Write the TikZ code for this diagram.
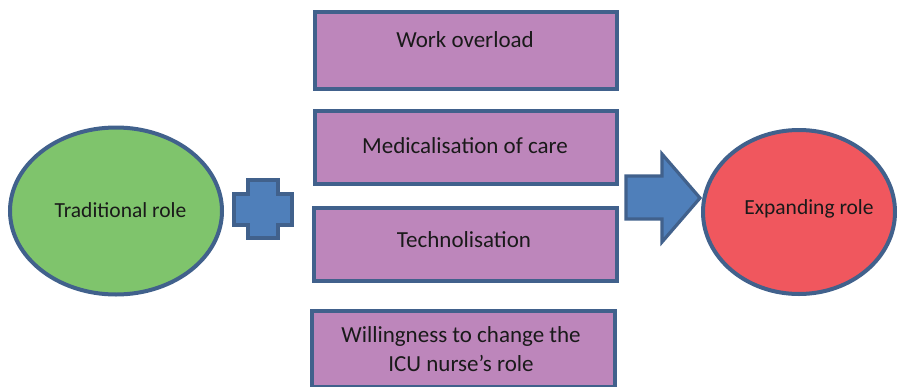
\documentclass[tikz,border=0pt]{standalone}
\usepackage{fontspec}
\setmainfont{Carlito}
\usetikzlibrary{shapes.geometric}
\definecolor{edge}{HTML}{41618C}
\definecolor{boxfill}{HTML}{BD86BB}
\definecolor{greenfill}{HTML}{7FC46C}
\definecolor{redfill}{HTML}{F0575E}
\definecolor{bluefill}{HTML}{4F7FBA}
\definecolor{inktext}{HTML}{1A1A1A}
\begin{document}
\begin{tikzpicture}[x=1pt,y=-1pt,
  factor/.style={draw=edge,line width=3.8pt,fill=boxfill,rectangle,minimum width=302pt,minimum height=74pt,inner sep=0pt},
  factortext/.style={anchor=base,inner sep=0pt,text=inktext,font=\fontsize{23}{29}\selectfont,align=center},
  role/.style={draw=edge,line width=4pt,ellipse,inner sep=0pt},
  roletext/.style={anchor=base,inner sep=0pt,text=inktext,font=\fontsize{21.5}{26}\selectfont},
  shapeblue/.style={draw=edge,line width=3.2pt,fill=bluefill,line join=miter}]
\useasboundingbox (0,0) rectangle (897,386);
\clip (0,0) rectangle (897,386);
\fill[white] (0,0) rectangle (897,386);
\node[role,fill=greenfill,minimum width=212pt,minimum height=167pt] (trad) at (116,211) {};
\node[roletext] (tradt) at (120.5,217) {Traditional role};
\node[role,fill=redfill,minimum width=192pt,minimum height=164pt] (exp) at (799,212) {};
\node[roletext] (expt) at (809,214) {Expanding role};
\node[factor,anchor=north west,minimum height=77pt] (work) at (313,10) {};
\node[factortext] (workt) at (465,47) {Work overload};
\node[factor,anchor=north west,minimum height=73pt] (med) at (313,109) {};
\node[factortext] (medt) at (465,153) {Medicalisation of care};
\node[factor,anchor=north west,minimum width=303pt,minimum height=73pt] (tech) at (312,206) {};
\node[factortext] (techt) at (464,247) {Technolisation};
\node[factor,anchor=north west,minimum width=303pt,minimum height=76pt] (will) at (310,309) {};
\node[factortext,anchor=base] (willt) at (461,371) {Willingness to change the\\ICU nurse\textquoteright s role};
% plus sign
\draw[shapeblue] (248,180) -- (278,180) -- (278,194) -- (292,194) -- (292,225) -- (278,225) -- (278,238) -- (248,238) -- (248,225) -- (234,225) -- (234,194) -- (248,194) -- cycle;
% arrow
\draw[shapeblue] (626,176) -- (662,176) -- (662,154) -- (700,198) -- (662,242) -- (662,219) -- (626,219) -- cycle;
\end{tikzpicture}
\end{document}
